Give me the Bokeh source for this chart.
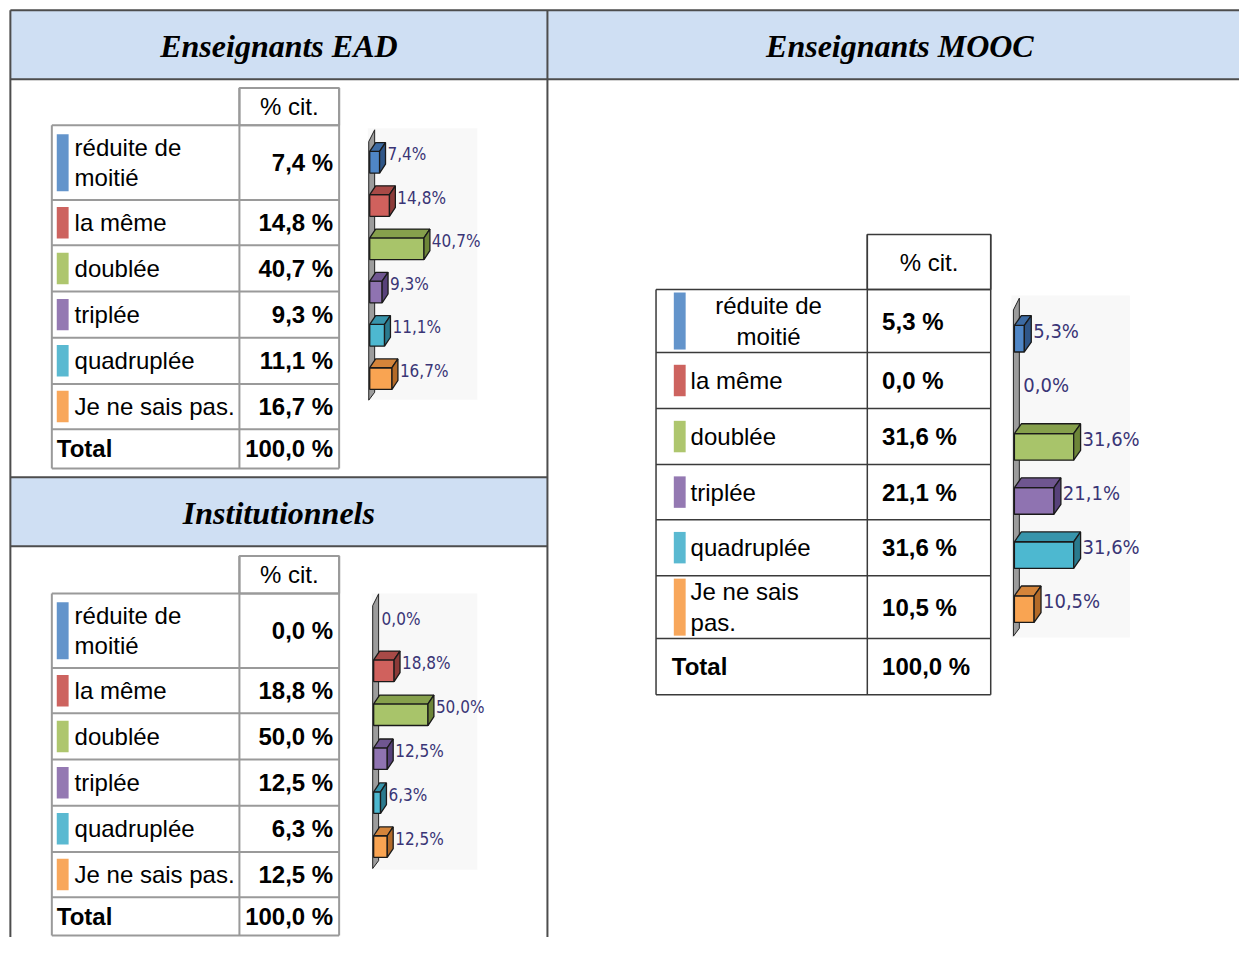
from bokeh.plotting import figure
from bokeh.models import Range1d, ColumnDataSource
from bokeh.core.properties import value
from bokeh.embed import file_html
from bokeh.resources import INLINE

# ---------------- data ----------------
categories = ["réduite de moitié", "la même", "doublée", "triplée", "quadruplée", "Je ne sais pas."]
ead_values = [7.4, 14.8, 40.7, 9.3, 11.1, 16.7]
inst_values = [0.0, 18.8, 50.0, 12.5, 6.3, 12.5]
mooc_values = [5.3, 0.0, 31.6, 21.1, 31.6, 10.5]
total_label = "Total"
total_value = 100.0
col_header = "% cit."
title_ead = "Enseignants EAD"
title_inst = "Institutionnels"
title_mooc = "Enseignants MOOC"

# ---------------- styles ----------------
swatch_colors = ["#6394cb", "#cd635f", "#aec66e", "#9479b2", "#5ab9d1", "#f8a75b"]
front_colors = ["#4f86c6", "#d0615d", "#a8c46a", "#8f73b1", "#4db8d0", "#f9a452"]
top_colors = ["#3d6ba3", "#a84a47", "#86a04c", "#6f5690", "#3794ab", "#d4843a"]
side_colors = ["#2f5688", "#8c3a38", "#6d8538", "#57417a", "#2a7a8e", "#b36a28"]
SANS = value("Liberation Sans")
SERIF = value("Liberation Serif")
NARROW = value("DejaVu Sans Condensed")
LABEL_COLOR = "#3a3576"
FRAME = "#4d4d4d"
HEAD_FILL = "#cfdff3"
FS = "24px"

W, H = 1239, 937
RW, RH = 1255, 953  # reference frame mapped onto the figure

p = figure(width=W, height=H, x_range=Range1d(0, RW), y_range=Range1d(RH, 0),
           output_backend="svg", toolbar_location=None, min_border=0,
           x_axis_location=None, y_axis_location=None, outline_line_color=None,
           background_fill_color="white", border_fill_color="white")
p.xgrid.visible = False
p.ygrid.visible = False


def fmt(v, sep=" "):
    return f"{v:.1f}{sep}%".replace(".", ",")


def wrap(label, max_chars):
    lines, cur = [], ""
    for w in label.split(" "):
        if cur and len(cur) + 1 + len(w) > max_chars:
            lines.append(cur)
            cur = w
        else:
            cur = (cur + " " + w) if cur else w
    lines.append(cur)
    return lines


# ---------------- outer frame ----------------
p.quad(left=[10, 10], right=[1260, 554], top=[10, 485], bottom=[80, 555],
       fill_color=HEAD_FILL, line_color=None)
p.segment(x0=[10, 10, 10, 554, 10, 10], y0=[10, 80, 10, 10, 485, 555],
          x1=[1260, 1260, 10, 554, 554, 554], y1=[10, 80, 960, 960, 485, 555],
          line_color=FRAME, line_width=2)
p.text(x=[282, 911, 282], y=[46, 46, 521], text=[title_ead, title_mooc, title_inst],
       text_font=SERIF, text_font_style="bold italic", text_font_size="32px",
       text_align="center", text_baseline="middle", text_color="black")


# ---------------- tables ----------------
def txt(x, y, t, align="left", bold=False, lh=1.13):
    p.text(x=[x], y=[y], text=[t], text_font=SANS, text_font_style="bold" if bold else "normal",
           text_font_size=FS, text_align=align, text_baseline="middle",
           text_line_height=lh, text_color="black")


def draw_table(values, xl, xm, xr, ys, border, bw, max_chars, label_dx, sw_dx,
               total_dx, val_mode, first_center=None):
    p.quad(left=[xm], right=[xr], top=[ys[0]], bottom=[ys[1]], fill_color=None,
           line_color=border, line_width=bw)
    txt((xm + xr) / 2, (ys[0] + ys[1]) / 2, col_header, "center")
    n = len(ys) - 1
    p.segment(x0=[xl] * n, x1=[xr] * n, y0=ys[1:], y1=ys[1:], line_color=border, line_width=bw)
    p.segment(x0=[xl, xm, xr], x1=[xl, xm, xr], y0=[ys[1], ys[0], ys[0]],
              y1=[ys[-1]] * 3, line_color=border, line_width=bw)

    def val(yc, v):
        if val_mode == "right":
            txt(xr - 6, yc, fmt(v), "right", True)
        else:
            txt(xm + 15, yc, fmt(v), "left", True)

    for i, (cat, v) in enumerate(zip(categories, values)):
        t, b = ys[1 + i], ys[2 + i]
        yc = (t + b) / 2
        lines = wrap(cat, max_chars)
        sh = min(len(lines) * 26 + 6, b - t - 6)
        p.quad(left=[xl + sw_dx], right=[xl + sw_dx + 12], top=[yc - sh / 2], bottom=[yc + sh / 2],
               fill_color=swatch_colors[i], line_color=None)
        if first_center is not None and i == 0:
            txt(first_center, yc, "\n".join(lines), "center")
        else:
            txt(xl + label_dx, yc, "\n".join(lines), "left")
        val(yc, v)
    yc = (ys[-2] + ys[-1]) / 2
    txt(xl + total_dx, yc, total_label, "left", True)
    val(yc, total_value)


draw_table(ead_values, 52, 242, 343, [89, 127, 203, 249, 296, 343, 390, 436, 476],
           "#9a9a9a", 2, 15, 23, 5, 5, "right")
draw_table(inst_values, 52, 242, 343, [565, 603, 679, 725, 772, 819, 866, 912, 951],
           "#9a9a9a", 2, 15, 23, 5, 5, "right")
draw_table(mooc_values, 664, 878, 1003, [238, 294, 358, 415, 472, 528, 585, 649, 706],
           "#3a3a3a", 1.5, 12, 35, 18, 16, "left", first_center=778)


# ---------------- 3D bar charts ----------------
def draw_bars(name, values, base, s, c0, step, bar_h, dx, dy, panel, fsize):
    xr_name, yr_name = name + "_x", name + "_y"
    p.extra_x_ranges[xr_name] = Range1d((0 - base) / s, (RW - base) / s)
    p.extra_y_ranges[yr_name] = Range1d((RH - c0) / step, (0 - c0) / step)
    p.quad(left=[panel[0]], right=[panel[1]], top=[panel[2]], bottom=[panel[3]],
           fill_color="#f8f8f8", line_color=None)
    dxu, dyu, hu = dx / s, dy / step, bar_h / step
    it, ib = -0.75, len(values) - 0.5
    p.patch(x=[-1 / s, -1 / s, 5 / s, 5 / s], y=[ib, it + 12 / step, it, ib - 8 / step],
            fill_color="#9c9c9c", line_color="#222222", line_width=1,
            x_range_name=xr_name, y_range_name=yr_name)
    xs, ys, cols = [], [], []
    for i, v in enumerate(values):
        if v <= 0:
            continue
        yt, yb = i - hu / 2, i + hu / 2
        xs += [[0, v, v, 0],
               [0, v, v + dxu, dxu],
               [v, v + dxu, v + dxu, v]]
        ys += [[yt, yt, yb, yb],
               [yt, yt, yt - dyu, yt - dyu],
               [yt, yt - dyu, yb - dyu, yb]]
        cols += [front_colors[i], top_colors[i], side_colors[i]]
    p.patches(xs=xs, ys=ys, fill_color=cols, line_color="#1a1a1a", line_width=1.3,
              x_range_name=xr_name, y_range_name=yr_name)
    src = ColumnDataSource(dict(
        x=[v + dxu + 2 / s for v in values],
        y=[i - 8 / step for i in range(len(values))],
        t=[fmt(v, "") for v in values]))
    p.text(x="x", y="y", text="t", source=src, text_font=NARROW, text_font_size=fsize,
           text_align="left", text_baseline="middle", text_color=LABEL_COLOR,
           x_range_name=xr_name, y_range_name=yr_name)


draw_bars("ead", ead_values, 374, 1.35, 164.5, 44, 22, 6, 9, (372, 483, 130, 406), "17px")
draw_bars("inst", inst_values, 378, 1.1, 637, 44.7, 22, 6, 9, (376, 483, 603, 884), "17px")
draw_bars("mooc", mooc_values, 1027, 1.9, 344, 55, 27, 7, 10, (1024, 1144, 300, 648), "20px")

open("out.html", "w").write(file_html(p, INLINE))
